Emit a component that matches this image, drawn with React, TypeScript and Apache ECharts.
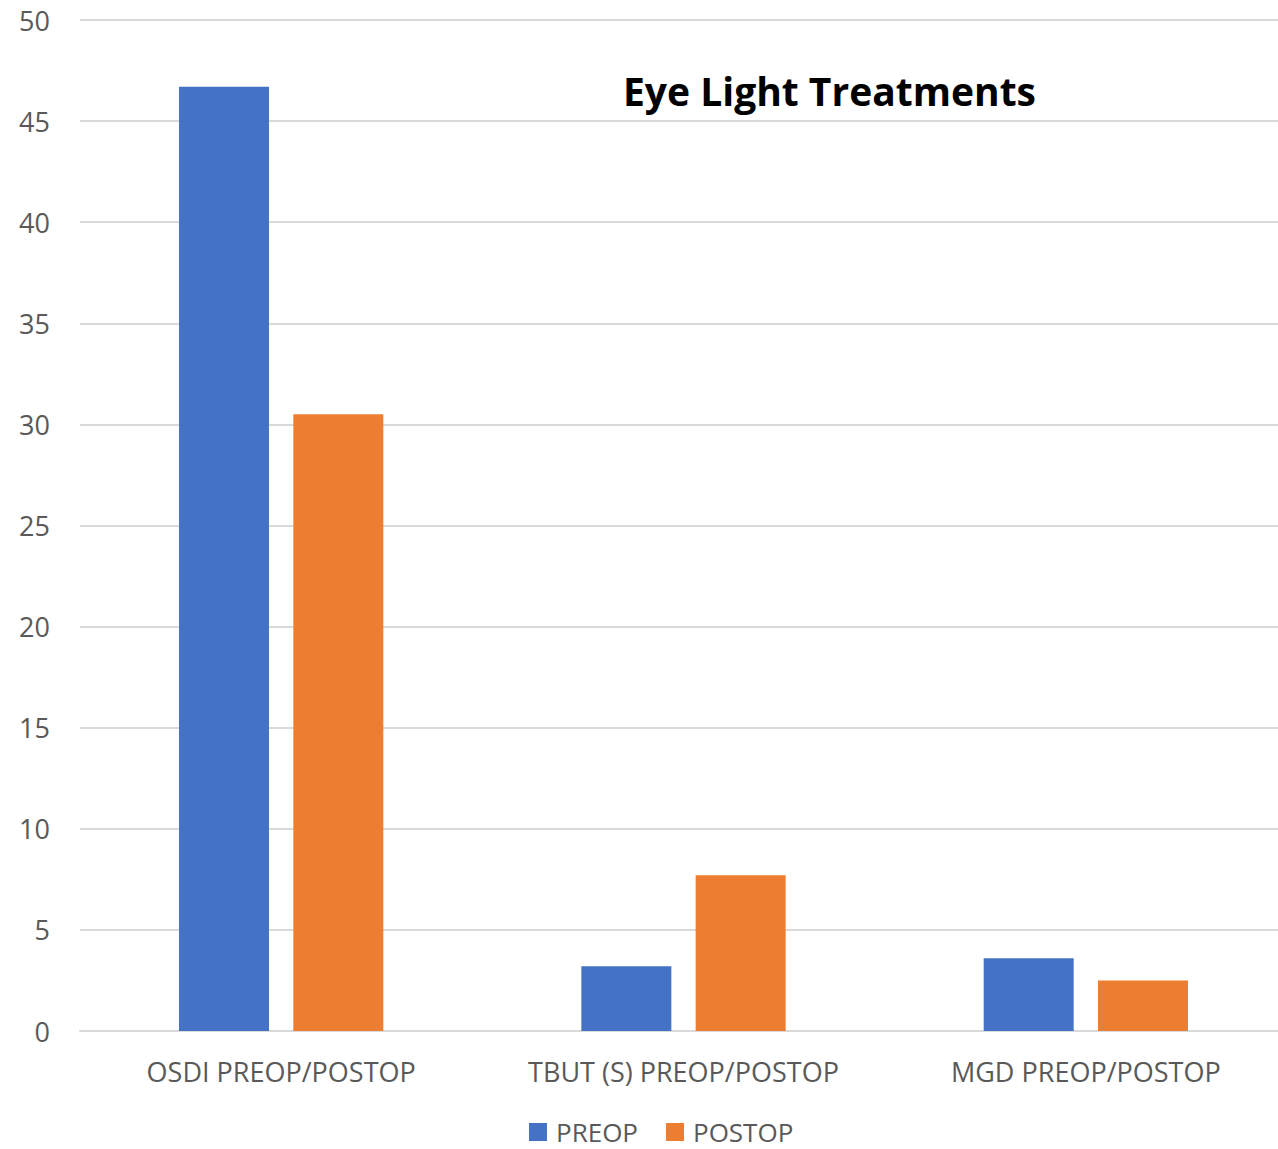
import React, { useEffect, useRef } from "react";
import * as echarts from "echarts";

const categories = ["OSDI PREOP/POSTOP", "TBUT (S) PREOP/POSTOP", "MGD PREOP/POSTOP"];
const preop = [46.7, 3.2, 3.6];
const postop = [30.5, 7.7, 2.5];
const seriesNames = ["PREOP", "POSTOP"];
const titleText = "Eye Light Treatments";

const FONT = "'Open Sans', 'Liberation Sans', sans-serif";

export default function App() {
  const ref = useRef<HTMLDivElement>(null);
  useEffect(() => {
    if (!ref.current) return;
    const chart = echarts.init(ref.current, null, { renderer: "svg" });
    chart.setOption({
      animation: false,
      backgroundColor: "#ffffff",
      title: {
        text: titleText,
        left: 618,
        top: 66,
        textStyle: { fontFamily: FONT, fontWeight: "bold", fontSize: 39, color: "#000000" },
      },
      legend: {
        data: seriesNames,
        left: 529,
        top: 1119,
        padding: 0,
        icon: "rect",
        itemWidth: 18,
        itemHeight: 18,
        itemGap: 28,
        textStyle: { fontFamily: FONT, fontSize: 26, lineHeight: 26, color: "#595959", padding: [0, 0, 0, 4] },
      },
      grid: { left: 80, right: 0, top: 20, bottom: 118, containLabel: false },
      xAxis: {
        type: "category",
        data: categories,
        axisLine: { show: true, lineStyle: { color: "#d9d9d9", width: 2 } },
        axisTick: { show: false },
        axisLabel: { interval: 0, fontFamily: FONT, fontSize: 27, color: "#595959", margin: 27 },
      },
      yAxis: {
        type: "value",
        min: 0,
        max: 50,
        interval: 5,
        axisLine: { show: false },
        axisTick: { show: false },
        splitLine: { lineStyle: { color: "#d9d9d9", width: 2 } },
        axisLabel: { fontFamily: FONT, fontSize: 27, color: "#595959", margin: 30 },
      },
      series: [
        {
          name: seriesNames[0],
          type: "bar",
          data: preop,
          barWidth: 90,
          barGap: "27%",
          itemStyle: { color: "#4472c4" },
        },
        {
          name: seriesNames[1],
          type: "bar",
          data: postop,
          barWidth: 90,
          itemStyle: { color: "#ed7d31" },
        },
      ],
    });
    return () => chart.dispose();
  }, []);
  return (
    <div style={{ position: "absolute", left: 0, top: 0, width: 1278, height: 1149, overflow: "hidden" }}>
      <div ref={ref} style={{ width: 1287, height: 1149 }} />
    </div>
  );
}
